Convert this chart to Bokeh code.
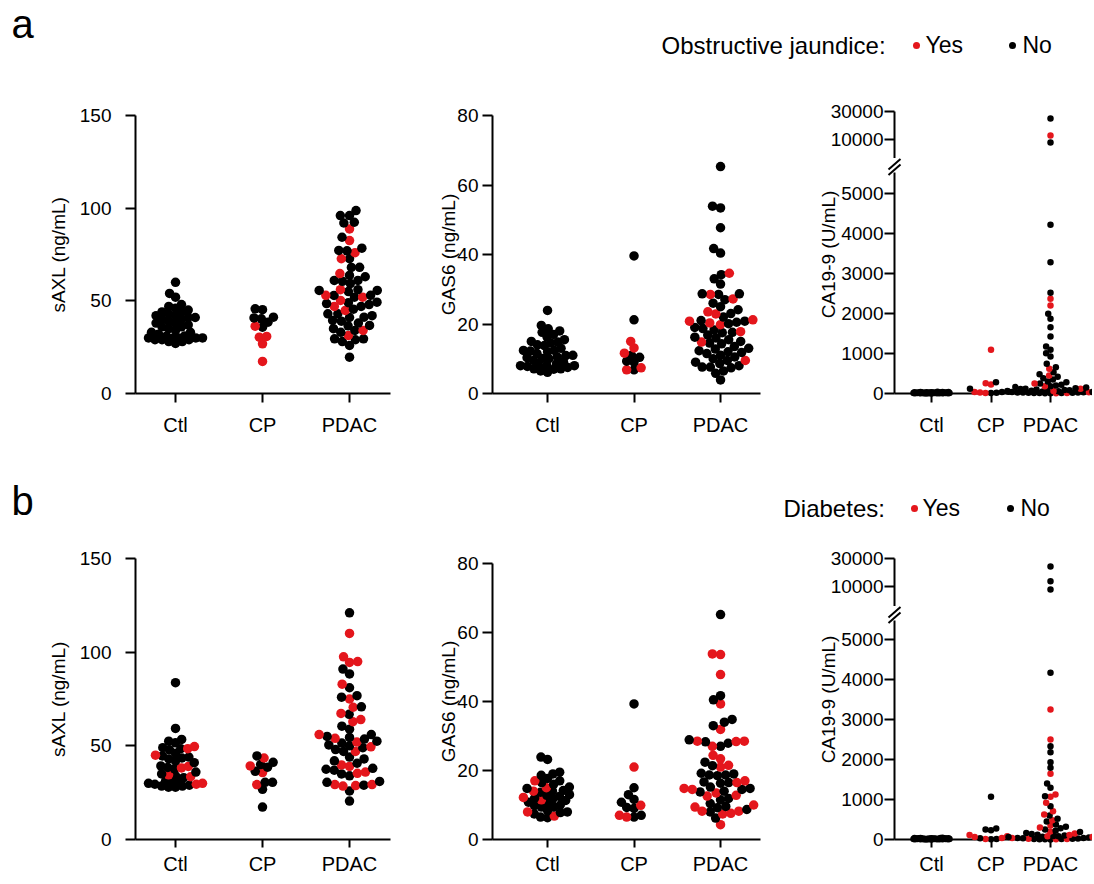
import numpy as np
from bokeh.plotting import figure
from bokeh.layouts import row, column
from bokeh.models import Range1d, FixedTicker, ColumnDataSource, BasicTickFormatter
from bokeh.core.properties import value, field
from bokeh.embed import file_html
from bokeh.resources import INLINE

FONT = "Liberation Sans"
RED = "#e4161c"
BLACK = "#000000"
CATEGORIES = ["Ctl", "CP", "PDAC"]
SAXL_TICKS = [0, 50, 100, 150]
GAS6_TICKS = [0, 20, 40, 60, 80]
CA_LOW_TICKS = [0, 1000, 2000, 3000, 4000, 5000]
CA_HIGH_TICKS = [10000, 30000]
CA_SPLIT = 5500
LEGEND_A = "Obstructive jaundice:"
LEGEND_B = "Diabetes:"
CA_LABEL = "CA19-9 (U/mL)"

# ---------------- row a : obstructive jaundice (YES = red, NO = black) ----------------
A_SAXL_CTL_NO = [60, 54, 52, 48, 47, 46, 45, 44, 44, 43, 42, 42, 41, 41, 40, 40, 39, 38, 38, 37,
                 36, 36, 35, 34, 33, 33, 32, 31, 31, 30, 30, 30, 30, 30, 29, 29, 29, 28, 28, 27]
A_SAXL_CTL_YES = []
A_SAXL_CP_NO = [45.7, 45.2, 41.2, 40.8, 40.3, 38.5, 35.8]
A_SAXL_CP_YES = [36.3, 30.8, 30.4, 26.8, 17.3]
A_SAXL_PDAC_NO = [98.7, 96, 96, 92.4, 92, 84.3, 78.4, 77.2, 77, 72.7, 68.1, 68, 63.7, 63, 61, 61,
                  60.5, 59.3, 56, 55.6, 55.6, 55, 53, 52.9, 52, 49.3, 49, 48.5, 48, 47, 45.5, 43,
                  43, 42, 41.2, 41, 39.4, 39, 38, 36.7, 36.5, 35, 34, 33, 29.5, 29.5, 29, 28, 25.9, 19.6]
A_SAXL_PDAC_YES = [88.8, 82.5, 76, 72.7, 64.7, 56, 53, 52, 50.2, 47, 44.8, 34, 31.3]

A_GAS6_CTL_NO = [23.9, 19.6, 18.6, 18, 17.6, 17, 16.2, 15.5, 15, 14.8, 14.5, 14, 13.8, 13, 12.4,
                 12.4, 12.2, 12, 11.5, 11, 10.9, 10.5, 10.3, 10.1, 10, 9.5, 9, 8.5, 8.1, 8.1, 8, 8,
                 7.8, 7.5, 7.1, 7.1, 7, 6.5, 6.1]
A_GAS6_CTL_YES = []
A_GAS6_CP_NO = [39.6, 21.2, 11, 10.4, 9.3, 9.0, 6.8]
A_GAS6_CP_YES = [15.0, 13.1, 11.6, 7.4, 6.8]
A_GAS6_PDAC_NO = [65.3, 53.9, 53.4, 47.7, 41.7, 40.4, 34.2, 33.0, 31.5, 28.7, 28.7, 28.5, 27.0,
                  26, 25, 24.1, 23, 22, 21, 20.8, 20.5, 20.1, 19, 18.7, 18.3, 17.6, 17.5, 16.8,
                  16.2, 16, 15.5, 15, 14.5, 14.3, 13.5, 13, 12.8, 12.3, 12, 11.8, 11.5, 11, 10.5,
                  10, 9.5, 9, 8.6, 8, 7.6, 7.6, 7.4, 6.5, 5.8, 3.9]
A_GAS6_PDAC_YES = [34.6, 28.5, 27.2, 23.5, 22.9, 21.2, 20.8, 20.3, 19.8, 17.8, 14.8, 9.5]

A_CA_CTL_NO = [2, 3, 4, 5, 5, 6, 7, 8, 8, 9, 10, 10, 11, 12, 12, 13, 14, 15, 15, 16, 17, 18, 18,
               19, 20, 21, 22, 23, 24, 25, 26, 27, 28, 30, 31, 33, 35, 37, 40, 45]
A_CA_CTL_YES = []
A_CA_CP_NO = [283, 117, 60, 35, 20, 12]
A_CA_CP_YES = [1092, 258, 225, 40, 25, 15]
A_CA_PDAC_NO = [22800, 8900, 4217, 3283, 2517, 1992, 1867, 1658, 1425, 1175, 1092, 1008, 925, 742,
                658, 533, 480, 420, 380, 350, 300, 280, 250, 220, 200, 180, 160, 150, 130, 120,
                110, 100, 90, 80, 70, 60, 55, 50, 45, 40, 35, 30, 28, 25, 22, 20, 18, 15, 12, 10, 8, 5]
A_CA_PDAC_YES = [11700, 2367, 2200, 620, 450, 250, 180, 120, 60, 30, 15, 8]

# ---------------- row b : diabetes (YES = red, NO = black) ----------------
B_SAXL_CTL_NO = [83.7, 59.3, 53.4, 52.5, 51.6, 49, 48.5, 47.9, 46, 44.6, 44, 43.5, 43, 42, 41,
                 39.3, 38.5, 37.7, 36, 35, 34, 33, 31, 30.5, 30.5, 30, 29.5, 29, 28.5, 28.5, 27.9, 27.9]
B_SAXL_CTL_YES = [49.6, 48.5, 45, 39, 38.2, 34.5, 33.5, 30, 29.5]
B_SAXL_CP_NO = [44.6, 41.2, 40, 38.6, 36.4, 30.5, 30.5, 26.8, 17.3]
B_SAXL_CP_YES = [43.5, 39.3, 35.7, 29.3]
B_SAXL_PDAC_NO = [121, 91, 88.4, 81, 76.8, 76, 70.8, 66.8, 60.5, 58.9, 56, 55, 54.5, 53.6, 52.5,
                  51.5, 50.5, 50, 49, 48, 47, 44, 43, 42, 40.7, 38, 37.5, 37, 35, 34, 31, 30.5, 29,
                  25.9, 20.5]
B_SAXL_PDAC_YES = [110, 97.5, 95, 94.5, 82.9, 75, 70.6, 67.3, 64, 62.9, 56, 54, 52, 49.5, 47,
                   39.8, 39, 36, 35.3, 29.3, 29.3, 28.8, 28.5]

B_GAS6_CTL_NO = [23.9, 23.2, 19.5, 19, 18.6, 17.7, 17, 16.5, 16, 15.2, 14.8, 14.2, 14, 13.7, 13,
                 12.8, 12.5, 12, 11.8, 11.3, 10.8, 10.5, 10, 9.8, 9.4, 9.4, 8.4, 8, 7.8, 7.4, 6.5, 6.3]
B_GAS6_CTL_YES = [17, 15, 14, 12.2, 11.5, 8, 6.8]
B_GAS6_CP_NO = [39.3, 15, 13, 11.6, 10.8, 9.3, 9.0, 7, 6.5]
B_GAS6_CP_YES = [21, 9.9, 7, 6.5]
B_GAS6_PDAC_NO = [65.2, 41.7, 40.5, 34.8, 34, 33, 28.9, 28.3, 27.9, 27, 22.4, 21.4, 19.2, 19,
                  18.7, 18.7, 18.5, 16.7, 16.5, 16.3, 15.2, 14.8, 14.5, 14, 13.8, 11.9, 11.5,
                  10.4, 9.6, 9.2, 8.7, 8, 6.2]
B_GAS6_PDAC_YES = [53.8, 53.6, 47.8, 39.3, 31.9, 28.5, 28.4, 28.5, 27, 24.4, 23.4, 21.5, 21, 17,
                   16.5, 14.8, 14.5, 13.5, 12.8, 12.6, 10, 9.4, 8.2, 8.2, 7.6, 7.4, 4.3]

B_CA_CTL_NO = [2, 3, 4, 5, 6, 6, 7, 8, 9, 9, 10, 11, 12, 12, 13, 14, 15, 16, 16, 17, 18, 19, 20,
               21, 22, 23, 24, 25, 26, 28, 29, 30, 32, 34, 36, 38, 40, 44]
B_CA_CTL_YES = []
B_CA_CP_NO = [1067, 275, 250, 233, 30, 15, 5]
B_CA_CP_YES = [110, 80, 60, 40, 10]
B_CA_PDAC_NO = [21900, 12300, 8900, 4167, 2333, 2183, 1933, 1792, 1400, 1292, 1083, 833, 600,
                520, 450, 375, 320, 280, 250, 220, 190, 160, 140, 120, 100, 90, 80, 70, 60, 50,
                40, 35, 30, 25, 20, 15, 10, 8, 5, 3]
B_CA_PDAC_YES = [3250, 2500, 1642, 1125, 1067, 917, 708, 625, 480, 350, 300, 200, 150, 110, 80,
                 60, 40, 20, 10, 5]


# ---------------- layout helpers ----------------
def swarm(ypx, md, cap):
    """Beeswarm offsets (pixels) for points at vertical pixel positions ypx."""
    n = len(ypx)
    xs = np.zeros(n)
    order = list(np.argsort(ypx, kind="stable"))
    px, py = [], []
    for i in order:
        y = ypx[i]
        iv = []
        for xj, yj in zip(px, py):
            dy = abs(y - yj)
            if dy < md:
                w = (md * md - dy * dy) ** 0.5
                iv.append((xj - w, xj + w))
        cands = [0.0] + [a for a, b in iv] + [b for a, b in iv]
        cands.sort(key=lambda c: (abs(c), c))
        best = None
        for c in cands:
            if all(not (a + 1e-9 < c < b - 1e-9) for a, b in iv):
                best = c
                break
        if best is None or abs(best) > cap:
            grid = np.linspace(-cap, cap, int(2 * cap) + 1)
            scores = []
            for g in grid:
                s = min((g - xj) ** 2 + (y - yj) ** 2 for xj, yj in zip(px, py)) if px else 1e9
                scores.append((-s, abs(g), g))
            best = min(scores)[2]
        xs[i] = best
        px.append(best)
        py.append(y)
    return xs, order


def build_points(groups, ypx_of, mds, caps, ppx):
    xs, ys, cs = [], [], []
    for gi, (no, yes) in enumerate(groups):
        vals = list(no) + list(yes)
        cols = [BLACK] * len(no) + [RED] * len(yes)
        if not vals:
            continue
        ypx = np.array([ypx_of(v) for v in vals], dtype=float)
        off, order = swarm(ypx, mds[gi], caps[gi])
        for i in order:
            xs.append(gi + off[i] / ppx)
            ys.append(vals[i])
            cs.append(cols[i])
    return ColumnDataSource(dict(x=xs, y=ys, c=cs))


def base_fig(w, h, l, r, t, b, xr, yr, y_type="linear", xaxis=True, yaxis=True):
    p = figure(width=w, height=h, x_range=Range1d(*xr), y_range=Range1d(*yr),
               y_axis_type=y_type,
               x_axis_location="below" if xaxis else None,
               y_axis_location="left" if yaxis else None,
               toolbar_location=None, output_backend="svg",
               min_border_left=l, min_border_right=r, min_border_top=t, min_border_bottom=b)
    p.outline_line_color = None
    p.grid.visible = False
    p.background_fill_color = "white"
    p.border_fill_color = "white"
    return p


def style_axis(ax, size, tick_out, standoff):
    ax.axis_line_width = 2
    ax.axis_line_color = "black"
    ax.major_tick_line_width = 2
    ax.major_tick_line_color = "black"
    ax.major_tick_in = 0
    ax.major_tick_out = tick_out
    ax.minor_tick_line_color = None
    ax.major_label_text_font = FONT
    ax.major_label_text_font_size = size
    ax.major_label_text_color = "black"
    ax.major_label_standoff = standoff
    ax.axis_label_text_font = FONT
    ax.axis_label_text_font_size = "19px"
    ax.axis_label_text_font_style = "normal"
    ax.axis_label_text_color = "black"


def cat_axis(p, tick_out, standoff):
    ax = p.xaxis[0]
    style_axis(ax, "20px", tick_out, standoff)
    ax.ticker = FixedTicker(ticks=[0, 1, 2])
    ax.major_label_overrides = {i: c for i, c in enumerate(CATEGORIES)}


def simple_panel(w, h, l, r, t, b, xr, yr, ticks, label, groups, y_standoff, label_standoff,
                 x_tick_out, x_standoff):
    p = base_fig(w, h, l, r, t, b, xr, yr)
    ppx = (w - l - r) / (xr[1] - xr[0])
    ppy = (h - t - b) / (yr[1] - yr[0])
    src = build_points(groups, lambda v: v * ppy, (7.0, 7.4, 8.2), (27, 27, 40), ppx)
    p.scatter("x", "y", source=src, size=9.5, fill_color=field("c"), line_color=None)
    ya = p.yaxis[0]
    style_axis(ya, "19px", 10, y_standoff)
    ya.ticker = FixedTicker(ticks=ticks)
    ya.axis_label = label
    ya.axis_label_standoff = label_standoff
    cat_axis(p, x_tick_out, x_standoff)
    return p


def ca_panel(w, top_h, top_t, bot_h, bot_t, bot_b, xr, top_yr, bot_yr, groups,
             x_tick_out, x_standoff, canvas_top, label_center_y):
    left = 94
    axis_x = 800 + left          # page x of the y axis
    top = base_fig(w, top_h, left, 0, top_t, 0, xr, top_yr, y_type="log", xaxis=False)
    bot = base_fig(w, bot_h, left, 0, bot_t, bot_b, xr, bot_yr)
    ppx = (w - left) / (xr[1] - xr[0])
    ppy_log = (top_h - top_t) / (np.log10(top_yr[1]) - np.log10(top_yr[0]))
    bot_fh = bot_h - bot_t - bot_b
    ppy = bot_fh / (bot_yr[1] - bot_yr[0])
    zero_px = canvas_top + top_h + bot_t + bot_fh   # page y of value 0

    hi = [([v for v in no if v > CA_SPLIT], [v for v in yes if v > CA_SPLIT]) for no, yes in groups]
    lo = [([v for v in no if v <= CA_SPLIT], [v for v in yes if v <= CA_SPLIT]) for no, yes in groups]
    src_hi = build_points(hi, lambda v: np.log10(v) * ppy_log, (5.5, 5.5, 5.5), (18, 25, 42), ppx)
    src_lo = build_points(lo, lambda v: v * ppy, (5.5, 5.5, 5.5), (18, 25, 42), ppx)
    top.scatter("x", "y", source=src_hi, size=6.5, fill_color=field("c"), line_color=None, level="overlay")
    bot.scatter("x", "y", source=src_lo, size=6.5, fill_color=field("c"), line_color=None, level="overlay")

    ta = top.yaxis[0]
    style_axis(ta, "19px", 10, 1)
    ta.ticker = FixedTicker(ticks=CA_HIGH_TICKS)
    ta.formatter = BasicTickFormatter(use_scientific=False)
    ta.major_label_overrides = {v: str(v) for v in CA_HIGH_TICKS}

    ba = bot.yaxis[0]
    style_axis(ba, "19px", 10, 1)
    ba.ticker = FixedTicker(ticks=CA_LOW_TICKS)
    cat_axis(bot, x_tick_out, x_standoff)

    def dx(px):
        return xr[0] + (px - axis_x) / ppx

    def dy(py):
        return (zero_px - py) / ppy

    # axis break marks, drawn just above the lower frame
    brk = canvas_top + top_h
    bot.segment(x0=[dx(900), dx(900)], y0=[dy(brk + 0.5), dy(brk + 6)],
                x1=[dx(888), dx(888)], y1=[dy(brk + 11), dy(brk + 16.5)],
                line_width=2, line_color="black", level="overlay")
    # y axis title centred on the whole broken axis
    bot.text(x=[dx(828)], y=[dy(label_center_y)], text=[CA_LABEL], angle=np.pi / 2,
             text_font=value(FONT), text_font_size="19px", text_align="center",
             text_baseline="middle", text_color="black", level="overlay")
    return column(top, bot, spacing=0)


def header(h, y0, letter, letter_base, legend_text, legend_x, base_y, dot_y, red_x, yes_x, black_x, no_x):
    p = figure(width=1092, height=h, x_range=Range1d(0, 1092), y_range=Range1d(y0 + h, y0),
               x_axis_location=None, y_axis_location=None, toolbar_location=None,
               output_backend="svg", min_border_left=0, min_border_right=0,
               min_border_top=0, min_border_bottom=0)
    p.outline_line_color = None
    p.grid.visible = False
    p.text(x=[11], y=[letter_base - 0.37 * 40], text=[letter], text_font=value(FONT),
           text_font_size="40px", text_baseline="alphabetic", text_align="left", text_color="black")
    p.text(x=[legend_x], y=[base_y - 0.35 * 24], text=[legend_text],
           text_font=value(FONT), text_font_size="24px", text_baseline="alphabetic",
           text_align="left", text_color="black")
    p.text(x=[yes_x, no_x], y=[base_y - 0.35 * 23] * 2, text=["Yes", "No"],
           text_font=value(FONT), text_font_size="23px", text_baseline="alphabetic",
           text_align="left", text_color="black")
    p.scatter(x=[red_x, black_x], y=[dot_y, dot_y], size=7, fill_color=[RED, BLACK], line_color=None)
    return p


# ---------------- build ----------------
XR1 = (-0.46, 2.471)
XR2 = (-0.636, 2.462)
XR3 = (-0.622, 2.706)

head_a = header(95, 0, "a", 38, LEGEND_A, 661, 53, 45, 916, 925, 1012, 1022)

a1 = simple_panel(420, 350, 135, 30, 20, 52, XR1, (0, 150), SAXL_TICKS, "sAXL (ng/mL)",
                  [(A_SAXL_CTL_NO, A_SAXL_CTL_YES), (A_SAXL_CP_NO, A_SAXL_CP_YES),
                   (A_SAXL_PDAC_NO, A_SAXL_PDAC_YES)], 14, 8, 9, 11)
a2 = simple_panel(380, 350, 72, 40, 20, 52, XR2, (0, 80), GAS6_TICKS, "GAS6 (ng/mL)",
                  [(A_GAS6_CTL_NO, A_GAS6_CTL_YES), (A_GAS6_CP_NO, A_GAS6_CP_YES),
                   (A_GAS6_PDAC_NO, A_GAS6_PDAC_YES)], 4, -5, 9, 11)
a3 = ca_panel(292, 63, 16, 287, 14, 52, XR3, (4746, 30000), (0, 5525),
              [(A_CA_CTL_NO, A_CA_CTL_YES), (A_CA_CP_NO, A_CA_CP_YES), (A_CA_PDAC_NO, A_CA_PDAC_YES)],
              9, 11, 95, 254)

head_b = header(95, 445, "b", 515, LEGEND_B, 783, 516, 508, 914, 922, 1010, 1020)

b1 = simple_panel(420, 342, 135, 30, 18, 43, XR1, (0, 150), SAXL_TICKS, "sAXL (ng/mL)",
                  [(B_SAXL_CTL_NO, B_SAXL_CTL_YES), (B_SAXL_CP_NO, B_SAXL_CP_YES),
                   (B_SAXL_PDAC_NO, B_SAXL_PDAC_YES)], 14, 8, 8, 5)
b2 = simple_panel(380, 342, 72, 40, 23, 43, XR2, (0, 80), GAS6_TICKS, "GAS6 (ng/mL)",
                  [(B_GAS6_CTL_NO, B_GAS6_CTL_YES), (B_GAS6_CP_NO, B_GAS6_CP_YES),
                   (B_GAS6_PDAC_NO, B_GAS6_PDAC_YES)], 4, -5, 8, 5)
b3 = ca_panel(292, 66, 18, 276, 14, 43, XR3, (4562, 30000), (0, 5475),
              [(B_CA_CTL_NO, B_CA_CTL_YES), (B_CA_CP_NO, B_CA_CP_YES), (B_CA_PDAC_NO, B_CA_PDAC_YES)],
              8, 5, 540, 699)

row_a = row(column(a1), column(a2), a3, spacing=0)
row_b = row(column(b1), column(b2), b3, spacing=0)
layout = column(head_a, row_a, head_b, row_b, spacing=0)

open("out.html", "w").write(file_html(layout, INLINE))
